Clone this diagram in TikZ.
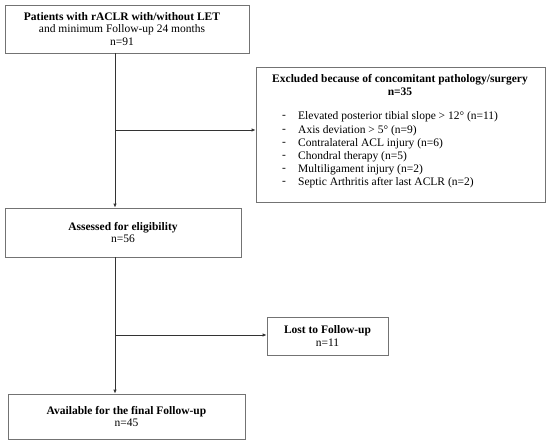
\documentclass[tikz,border=0pt]{standalone}
\usepackage{fontspec}
\setmainfont{Liberation Serif}
\usetikzlibrary{arrows.meta}
\begin{document}
\begin{tikzpicture}[x=1pt,y=-1pt,
  box/.style={draw=black!55,line width=0.8pt,inner sep=0pt},
  txt/.style={inner sep=0pt,font=\fontsize{11.5}{12.8}\selectfont,align=center},
  conn/.style={draw=black!80,line width=0.9pt},
  arr/.style={conn,-{Latex[length=4pt,width=3.5pt]}}]
\useasboundingbox (0,0) rectangle (550,447);
% boxes
\node[box,minimum width=244pt,minimum height=48pt] (b1) at (127,29) {};
\node[box,minimum width=289pt,minimum height=135pt] (ex) at (400.5,134.5) {};
\node[box,minimum width=236pt,minimum height=49pt] (as) at (123,232.5) {};
\node[box,minimum width=121pt,minimum height=38pt] (lost) at (327.5,336) {};
\node[box,minimum width=237pt,minimum height=45pt] (fin) at (126.5,416.5) {};
% texts
\node[txt] (t1) at (122,29) {\textbf{Patients with rACLR with/without LET}\\and minimum Follow-up 24 months\\n=91};
\node[txt] (t2) at (400,85) {\textbf{Excluded because of concomitant pathology/surgery}\\\textbf{n=35}};
\foreach \i/\yy/\s in {1/117/{Elevated posterior tibial slope > 12° (n=11)},
  2/130.5/{Axis deviation > 5° (n=9)},
  3/143.5/{Contralateral ACL injury (n=6)},
  4/156.5/{Chondral therapy (n=5)},
  5/169.5/{Multiligament injury (n=2)},
  6/182.5/{Septic Arthritis after last ACLR (n=2)}}{
  \node[txt,anchor=west] (d\i) at (282,\yy) {-};
  \node[txt,anchor=west] (l\i) at (298,\yy) {\s};
}
\node[txt] (t3) at (123,232.5) {\textbf{Assessed for eligibility}\\n=56};
\node[txt] (t4) at (327.5,336) {\textbf{Lost to Follow-up}\\n=11};
\node[txt] (t5) at (126.5,416.5) {\textbf{Available for the final Follow-up}\\n=45};
% connectors
\coordinate (c1) at (115,130);
\coordinate (c2) at (115,335);
\draw[arr] (115,53) coordinate (s1) -- (s1 |- as.north);
\draw[arr] (c1) -- (c1 -| ex.west);
\draw[arr] (115,257) coordinate (s2) -- (s2 |- fin.north);
\draw[arr] (c2) -- (c2 -| lost.west);
\end{tikzpicture}
\end{document}
